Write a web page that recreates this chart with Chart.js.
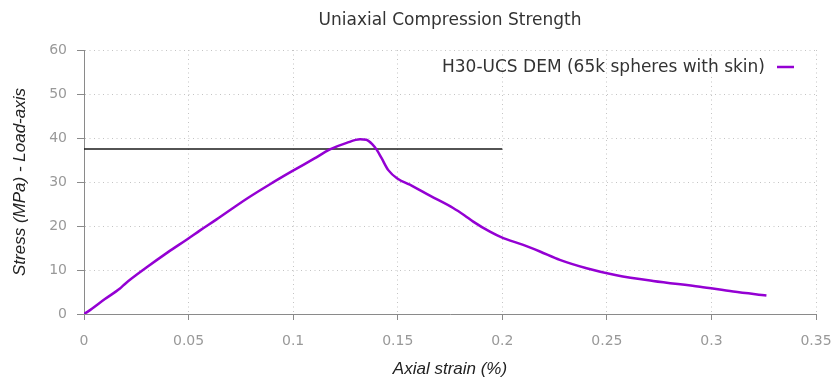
<!DOCTYPE html>
<html>
<head>
<meta charset="utf-8">
<script src="https://cdn.jsdelivr.net/npm/chart.js@4"></script>
<style>
  html, body { margin: 0; padding: 0; background: #fff; }
  #wrap { width: 835px; height: 379px; }
</style>
</head>
<body>
<div id="wrap"><canvas id="ucsChart"></canvas></div>
<script>
// axial strain (%) and load-axis stress (MPa) from the DEM run
var strain = [0, 0.002, 0.010, 0.0172, 0.020, 0.030, 0.040, 0.0494, 0.0555, 0.0634,
  0.0778, 0.090, 0.0993, 0.110, 0.1176, 0.1256, 0.132, 0.135, 0.138, 0.140,
  0.1423, 0.1455, 0.1498, 0.1558, 0.1654, 0.1765, 0.182, 0.1861, 0.1941, 0.1997,
  0.210, 0.218, 0.2275, 0.2403, 0.2546, 0.2721, 0.2945, 0.3104, 0.3263];
var stress = [0, 0.6, 3.4, 5.8, 7.0, 10.6, 14.0, 17.0, 19.0, 21.5,
  26.2, 29.8, 32.4, 35.3, 37.4, 38.9, 39.7, 39.6, 38.5, 37.3,
  35.4, 32.7, 30.8, 29.4, 26.9, 24.1, 22.4, 21.0, 18.7, 17.4,
  15.7, 14.2, 12.3, 10.4, 8.8, 7.5, 6.2, 5.1, 4.2];

// reference strength level
var refStrain = [0, 0.2];
var refStress = [37.5, 37.5];

var xTicks = [0, 0.05, 0.1, 0.15, 0.2, 0.25, 0.3, 0.35];
var yTicks = [0, 10, 20, 30, 40, 50, 60];

var chartTitle = 'Uniaxial Compression Strength';
var seriesLabel = 'H30-UCS DEM (65k spheres with skin)';

function toPoints(xs, ys) {
  return xs.map(function (x, i) { return { x: x, y: ys[i] }; });
}

var gridDots = '#c4c4c4';
var axisGray = '#8a8a8a';

// title centred over the plot, key inside the plot at top right
// (label first, line sample after it)
var plotDecor = {
  id: 'plotDecor',
  afterDraw: function (chart) {
    var ds = chart.data.datasets[0];
    var area = chart.chartArea;
    var c = chart.ctx;
    c.save();
    c.font = '17px "DejaVu Sans"';
    c.fillStyle = '#333';
    c.textBaseline = 'middle';
    c.textAlign = 'center';
    c.fillText(chartTitle, (area.left + area.right) / 2, 21);

    var y = area.top + 18;
    c.textAlign = 'right';
    c.fillText(ds.label, area.right - 51, y);
    c.strokeStyle = ds.borderColor;
    c.lineWidth = 2.5;
    c.beginPath();
    c.moveTo(area.right - 39, y - 1);
    c.lineTo(area.right - 22, y - 1);
    c.stroke();
    c.restore();
  }
};

var ctx = document.getElementById('ucsChart');

var chart = new Chart(ctx, {
  type: 'line',
  data: {
    datasets: [{
      label: seriesLabel,
      data: toPoints(strain, stress),
      borderColor: '#9400d3',
      backgroundColor: '#9400d3',
      borderWidth: 2.5,
      pointRadius: 0,
      cubicInterpolationMode: 'monotone',
      fill: false
    }, {
      label: 'strength',
      data: toPoints(refStrain, refStress),
      borderColor: '#1a1a1a',
      borderWidth: 1.3,
      pointRadius: 0,
      fill: false
    }]
  },
  options: {
    responsive: true,
    maintainAspectRatio: false,
    animation: false,
    layout: { padding: { left: 0, right: 19, top: 50, bottom: 0 } },
    plugins: {
      legend: { display: false },
      tooltip: { enabled: false }
    },
    scales: {
      x: {
        type: 'linear',
        min: 0,
        max: 0.35,
        afterBuildTicks: function (s) { s.ticks = xTicks.map(function (v) { return { value: v }; }); },
        afterFit: function (s) {
          s.height = 65;
          s.paddingLeft = 0;
          s.paddingRight = 0;
        },
        ticks: {
          color: '#999',
          font: { family: 'DejaVu Sans', size: 14 },
          padding: 13,
          maxRotation: 0,
          callback: function (v) { return String(+v.toFixed(2)); }
        },
        grid: {
          color: gridDots,
          tickColor: axisGray,
          tickLength: 6,
          tickBorderDash: []
        },
        border: { color: axisGray, width: 1, dash: [1, 3.5] },
        title: {
          display: true,
          text: 'Axial strain (%)',
          color: '#222',
          font: { family: 'Liberation Sans', size: 17, style: 'italic' },
          padding: { top: 0, bottom: 0 }
        }
      },
      y: {
        min: 0,
        max: 60,
        afterBuildTicks: function (s) { s.ticks = yTicks.map(function (v) { return { value: v }; }); },
        afterFit: function (s) { s.width = 84; },
        ticks: {
          color: '#999',
          font: { family: 'DejaVu Sans', size: 14 },
          padding: 10
        },
        grid: {
          color: gridDots,
          tickColor: axisGray,
          tickLength: 7,
          tickBorderDash: []
        },
        border: { color: axisGray, width: 1, dash: [1, 3.5] },
        title: {
          display: true,
          text: 'Stress (MPa) - Load-axis',
          color: '#222',
          font: { family: 'Liberation Sans', size: 17, style: 'italic' },
          padding: { top: 10, bottom: 0 }
        }
      }
    }
  },
  plugins: [plotDecor]
});
</script>
</body>
</html>
